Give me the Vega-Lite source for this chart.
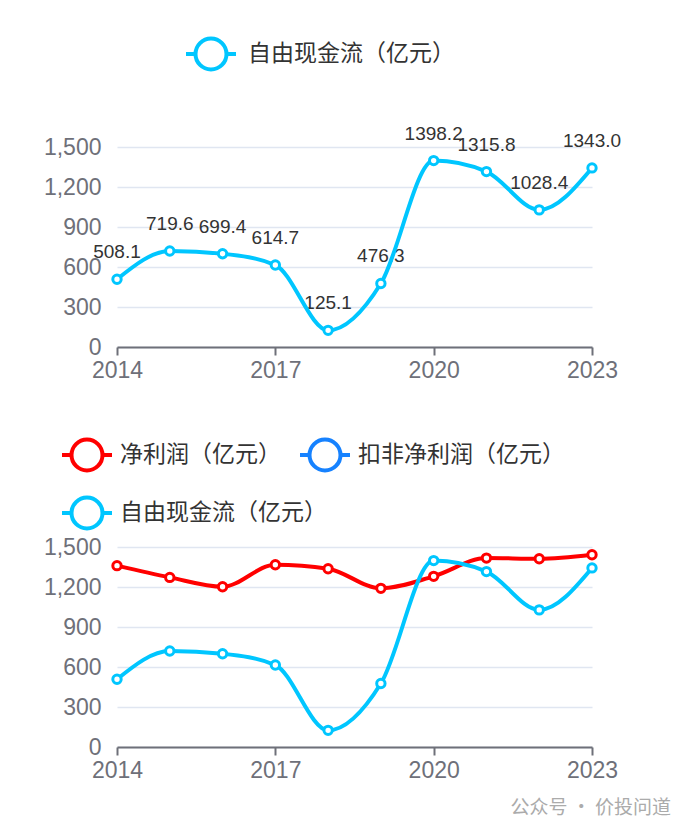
{
  "$schema": "https://vega.github.io/schema/vega-lite/v6.json",
  "padding": {"left": 43, "top": 27, "right": 5, "bottom": 5},
  "background": "white",
  "spacing": 46,
  "resolve": {"scale": {"color": "independent"}, "legend": {"color": "independent"}},
  "config": {
    "view": {"stroke": null},
    "font": "Liberation Sans",
    "axis": {
      "labelFont": "Liberation Sans",
      "labelFontSize": 23,
      "labelColor": "#6e7079",
      "title": null
    }
  },
  "title": {
    "text": "公众号 · 价投问道",
    "orient": "bottom",
    "anchor": "end",
    "font": "Noto Sans CJK SC",
    "fontSize": 19,
    "fontWeight": "normal",
    "color": "#ababab",
    "offset": 8,
    "dx": 50,
    "dy": 9
  },
  "datasets": {
    "fcf": [
      {"year": 2014, "series": "自由现金流（亿元）", "value": 508.1},
      {"year": 2015, "series": "自由现金流（亿元）", "value": 719.6},
      {"year": 2016, "series": "自由现金流（亿元）", "value": 699.4},
      {"year": 2017, "series": "自由现金流（亿元）", "value": 614.7},
      {"year": 2018, "series": "自由现金流（亿元）", "value": 125.1},
      {"year": 2019, "series": "自由现金流（亿元）", "value": 476.3},
      {"year": 2020, "series": "自由现金流（亿元）", "value": 1398.2},
      {"year": 2021, "series": "自由现金流（亿元）", "value": 1315.8},
      {"year": 2022, "series": "自由现金流（亿元）", "value": 1028.4},
      {"year": 2023, "series": "自由现金流（亿元）", "value": 1343.0}
    ],
    "all": [
      {"year": 2014, "series": "净利润（亿元）", "value": 1360},
      {"year": 2015, "series": "净利润（亿元）", "value": 1272},
      {"year": 2016, "series": "净利润（亿元）", "value": 1202},
      {"year": 2017, "series": "净利润（亿元）", "value": 1367},
      {"year": 2018, "series": "净利润（亿元）", "value": 1337},
      {"year": 2019, "series": "净利润（亿元）", "value": 1190},
      {"year": 2020, "series": "净利润（亿元）", "value": 1280},
      {"year": 2021, "series": "净利润（亿元）", "value": 1417},
      {"year": 2022, "series": "净利润（亿元）", "value": 1412},
      {"year": 2023, "series": "净利润（亿元）", "value": 1442},
      {"year": 2014, "series": "自由现金流（亿元）", "value": 508.1},
      {"year": 2015, "series": "自由现金流（亿元）", "value": 719.6},
      {"year": 2016, "series": "自由现金流（亿元）", "value": 699.4},
      {"year": 2017, "series": "自由现金流（亿元）", "value": 614.7},
      {"year": 2018, "series": "自由现金流（亿元）", "value": 125.1},
      {"year": 2019, "series": "自由现金流（亿元）", "value": 476.3},
      {"year": 2020, "series": "自由现金流（亿元）", "value": 1398.2},
      {"year": 2021, "series": "自由现金流（亿元）", "value": 1315.8},
      {"year": 2022, "series": "自由现金流（亿元）", "value": 1028.4},
      {"year": 2023, "series": "自由现金流（亿元）", "value": 1343.0}
    ]
  },
  "vconcat": [
    {
      "width": 475,
      "height": 200,
      "data": {"name": "fcf"},
      "encoding": {
        "x": {
          "field": "year",
          "type": "quantitative",
          "scale": {"domain": [2014, 2023], "nice": false, "zero": false},
          "axis": {
            "values": [2014, 2017, 2020, 2023],
            "format": "d",
            "grid": false,
            "domainColor": "#6e7079",
            "domainWidth": 2,
            "tickColor": "#6e7079",
            "tickWidth": 2,
            "tickSize": 8,
            "labelPadding": 4,
            "labelFlush": false
          }
        },
        "y": {
          "field": "value",
          "type": "quantitative",
          "scale": {"domain": [0, 1500], "nice": false},
          "axis": {
            "values": [0, 300, 600, 900, 1200, 1500],
            "format": ",.0f",
            "domain": false,
            "ticks": false,
            "tickSize": 0,
            "labelPadding": 16,
            "gridColor": "#e0e6f1",
            "gridWidth": 1.5
          }
        },
        "color": {
          "field": "series",
          "type": "nominal",
          "scale": {"domain": ["自由现金流（亿元）"], "range": ["#00c6ff"]},
          "legend": {
            "title": null,
            "orient": "none",
            "legendX": 67,
            "legendY": -120,
            "symbolType": "M-1,0L-0.62,0M0.62,0L1,0M0.62,0A0.62,0.62,0,1,1,-0.62,0A0.62,0.62,0,1,1,0.62,0",
            "symbolSize": 2500,
            "symbolStrokeWidth": 4,
            "labelFont": "Noto Sans CJK SC",
            "labelFontSize": 23,
            "labelColor": "#333333",
            "labelOffset": 10,
            "labelLimit": 400
          }
        }
      },
      "layer": [
        {
          "mark": {"type": "text", "font": "Liberation Sans", "fontSize": 19, "dy": -21, "baseline": "alphabetic", "align": "center"},
          "encoding": {"text": {"field": "value", "type": "quantitative", "format": ".1f"}, "color": {"value": "#333333"}}
        },
        {"mark": {"type": "line", "strokeWidth": 4, "interpolate": "monotone"}},
        {"mark": {"type": "point", "filled": true, "size": 70, "opacity": 1}, "encoding": {"color": {"value": "#ffffff"}}},
        {"mark": {"type": "point", "filled": false, "strokeWidth": 3, "size": 70, "opacity": 1}}
      ]
    },
    {
      "width": 475,
      "height": 200,
      "data": {"name": "all"},
      "encoding": {
        "x": {
          "field": "year",
          "type": "quantitative",
          "scale": {"domain": [2014, 2023], "nice": false, "zero": false},
          "axis": {
            "values": [2014, 2017, 2020, 2023],
            "format": "d",
            "grid": false,
            "domainColor": "#6e7079",
            "domainWidth": 2,
            "tickColor": "#6e7079",
            "tickWidth": 2,
            "tickSize": 8,
            "labelPadding": 4,
            "labelFlush": false
          }
        },
        "y": {
          "field": "value",
          "type": "quantitative",
          "scale": {"domain": [0, 1500], "nice": false},
          "axis": {
            "values": [0, 300, 600, 900, 1200, 1500],
            "format": ",.0f",
            "domain": false,
            "ticks": false,
            "tickSize": 0,
            "labelPadding": 16,
            "gridColor": "#e0e6f1",
            "gridWidth": 1.5
          }
        },
        "color": {
          "field": "series",
          "type": "nominal",
          "scale": {"domain": ["净利润（亿元）", "自由现金流（亿元）", "扣非净利润（亿元）"], "range": ["#ff0000", "#00c6ff", "#1682ff"]},
          "legend": {
            "title": null,
            "orient": "none",
            "legendX": -57,
            "legendY": -119,
            "columns": 2,
            "gridAlign": "none",
            "columnPadding": -35,
            "rowPadding": 7,
            "symbolType": "M-1,0L-0.62,0M0.62,0L1,0M0.62,0A0.62,0.62,0,1,1,-0.62,0A0.62,0.62,0,1,1,0.62,0",
            "symbolSize": 2500,
            "symbolStrokeWidth": 4,
            "labelFont": "Noto Sans CJK SC",
            "labelFontSize": 23,
            "labelColor": "#333333",
            "labelOffset": 6,
            "labelLimit": 400
          }
        }
      },
      "layer": [
        {"mark": {"type": "line", "strokeWidth": 4, "interpolate": "monotone"}},
        {"mark": {"type": "point", "filled": true, "size": 70, "opacity": 1}, "encoding": {"color": {"value": "#ffffff"}, "detail": {"field": "series"}}},
        {"mark": {"type": "point", "filled": false, "strokeWidth": 3, "size": 70, "opacity": 1}}
      ]
    }
  ]
}
